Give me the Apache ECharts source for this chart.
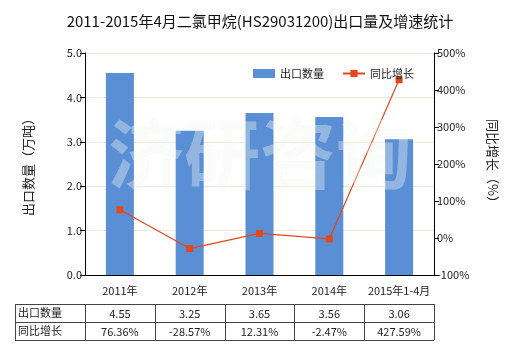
<!DOCTYPE html>
<html><head><meta charset="utf-8">
<script src="https://cdn.jsdelivr.net/npm/echarts@6/dist/echarts.min.js"></script>
<style>html,body{margin:0;padding:0;background:#fff}#c{width:520px;height:350px}</style>
</head><body><div id="c"></div>
<script>
var titleText = '2011-2015年4月二氯甲烷(HS29031200)出口量及增速统计';
var categories = ['2011年', '2012年', '2013年', '2014年', '2015年1-4月'];
var exportQty = [4.55, 3.25, 3.65, 3.56, 3.06];
var growth = [76.36, -28.57, 12.31, -2.47, 427.59];
var qtyLabels = ['4.55', '3.25', '3.65', '3.56', '3.06'];
var growthLabels = ['76.36%', '-28.57%', '12.31%', '-2.47%', '427.59%'];
var seriesNames = ['出口数量', '同比增长'];
var leftAxisName = '出口数量（万吨）';
var rightAxisName = '同比增长（%）';
var watermark = '济研咨询';

var font = '"Microsoft YaHei","Noto Sans CJK SC",sans-serif';
var gL = 85, gR = 434, gT = 53, gB = 275;
var chart = echarts.init(document.getElementById('c'));

var graphics = [];
// watermark
graphics.push({type:'text', left: 'center', top: 116, z: 100, silent:true,
  style:{text: watermark, font: 'bold 76px ' + font, fill:'rgba(243,246,243,0.38)', letterSpacing: 14}});
// table
var tT = 304, tM = 322, tBt = 340, tL = 15;
var colW = (gR - gL) / categories.length;
var border = '#444';
var lw = 1;
function line(x1,y1,x2,y2){graphics.push({type:'line', shape:{x1:x1,y1:y1,x2:x2,y2:y2}, style:{stroke:border, lineWidth:lw}});}
line(tL, tT+0.5, gR, tT+0.5);
line(tL, tM+0.5, gR, tM+0.5);
line(tL, tBt+0.5, gR, tBt+0.5);
line(tL+0.5, tT, tL+0.5, tBt);
for (var i = 0; i <= categories.length; i++) {
  var x = Math.round(gL + i * colW) + 0.5;
  line(x, tT, x, tBt);
}
graphics.push({type:'text', left: tL+3, top: tT+3, style:{text: seriesNames[0], font:'11px '+font, fill:'#222'}});
graphics.push({type:'text', left: tL+3, top: tM+3, style:{text: seriesNames[1], font:'11px '+font, fill:'#222'}});
for (var j = 0; j < categories.length; j++) {
  var cx = gL + (j + 0.5) * colW;
  graphics.push({type:'text', x: cx, y: (tT+tM)/2+1, style:{text: qtyLabels[j], font:'11px '+font, fill:'#222', align:'center', verticalAlign:'middle'}});
  graphics.push({type:'text', x: cx, y: (tM+tBt)/2+1, style:{text: growthLabels[j], font:'11px '+font, fill:'#222', align:'center', verticalAlign:'middle'}});
}

chart.setOption({
  animation: false,
  textStyle: {fontFamily: font},
  title: {text: titleText, left: 'center', top: 9, textStyle:{fontSize: 15, fontWeight:'normal', color:'#111', fontFamily: font}},
  legend: {left: 248, top: 63, itemGap: 18, itemWidth: 22, itemHeight: 9,
    textStyle:{fontSize: 11, color:'#222'}, data: [
    {name: seriesNames[0], icon: 'rect'},
    {name: seriesNames[1]}
  ]},
  grid: {left: gL, right: 520 - gR, top: gT, bottom: 350 - gB, containLabel: false},
  xAxis: {type:'category', data: categories,
    axisLine:{lineStyle:{color:'#000'}},
    axisTick:{alignWithLabel:true, length:5, lineStyle:{color:'#000'}},
    axisLabel:{color:'#222', fontSize: 11, margin: 10, interval: 0}},
  yAxis: [
    {type:'value', min:0, max:5, interval:1, name: leftAxisName, nameLocation:'middle', nameGap: 50,
      nameTextStyle:{fontSize: 13, color:'#222'},
      axisLine:{show:true, lineStyle:{color:'#000'}},
      axisTick:{show:true, length:5, lineStyle:{color:'#000'}},
      axisLabel:{color:'#222', fontSize: 11, margin: 3, formatter: function(v){return v.toFixed(1);}},
      splitLine:{show:true, lineStyle:{color:'#ecebd9'}}},
    {type:'value', min:-100, max:500, interval:100, name: rightAxisName, nameLocation:'middle', nameGap: 52, nameRotate: -90,
      nameTextStyle:{fontSize: 13, color:'#222'},
      axisLine:{show:true, lineStyle:{color:'#000'}},
      axisTick:{show:true, length:5, lineStyle:{color:'#000'}},
      axisLabel:{color:'#222', fontSize: 11, margin: 3, formatter: '{value}%'},
      splitLine:{show:false}}
  ],
  series: [
    {name: seriesNames[0], type:'bar', data: exportQty, barWidth: 28, itemStyle:{color:'#5a8fd6'}, z: 2},
    {name: seriesNames[1], type:'line', yAxisIndex:1, data: growth, symbol:'rect', symbolSize: 7,
      itemStyle:{color:'#e2481b'}, lineStyle:{color:'#e2481b', width:1.2}, z: 3}
  ],
  graphic: graphics
});
</script></body></html>
